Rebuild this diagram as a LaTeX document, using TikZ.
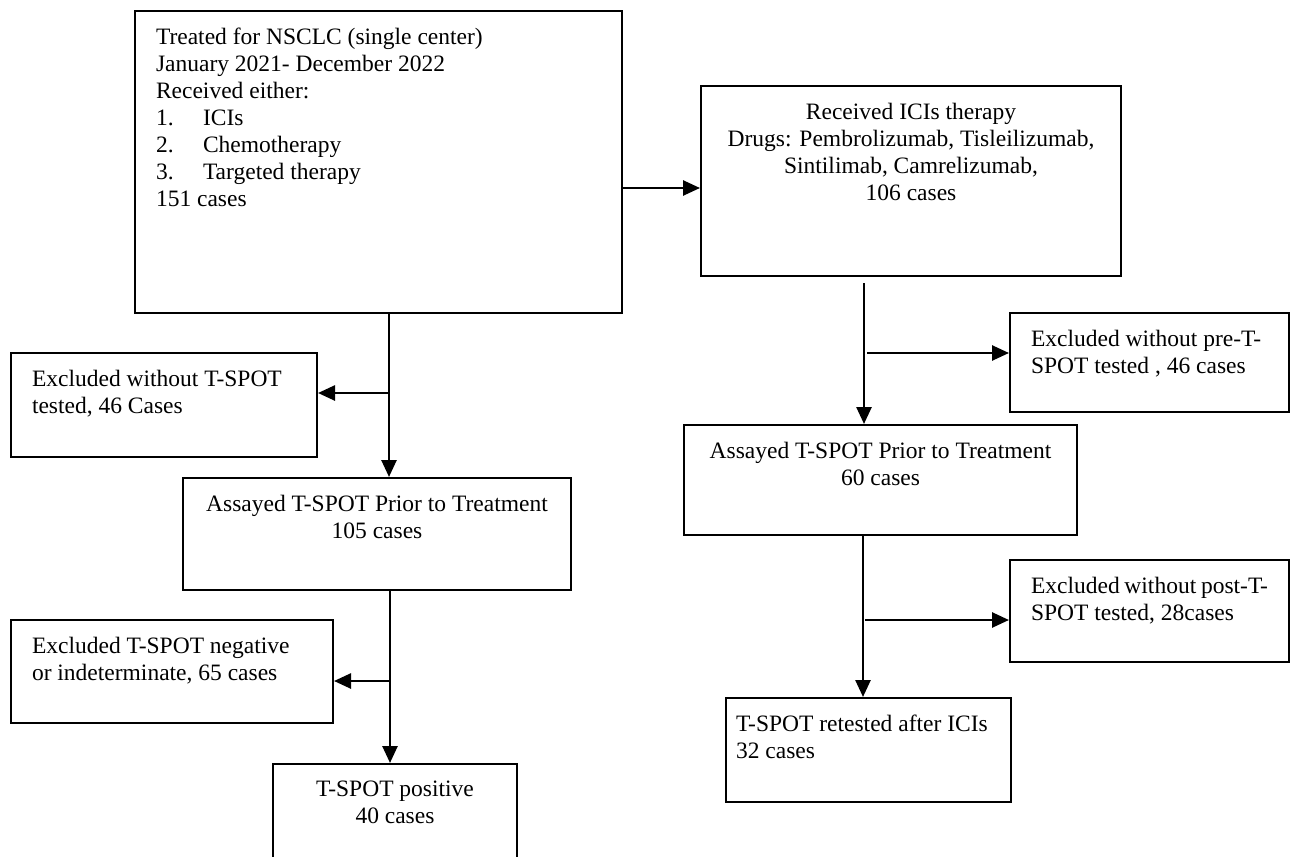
\documentclass[tikz,border=0pt]{standalone}
\usepackage{fontspec}
\setmainfont{Liberation Serif}
\usepackage{tikz}
\usetikzlibrary{arrows.meta}

\newcommand{\boxtext}[3]{\parbox[t][#2][t]{#1}{#3}}

\begin{document}
\begin{tikzpicture}[x=1pt, y=-1pt,
    box/.style={draw, line width=2pt, anchor=north west, inner xsep=21pt, inner ysep=17pt,
        font=\fontsize{23.5}{27}\selectfont},
    cbox/.style={box, inner xsep=5pt},
    arr/.style={line width=2.6pt, -{Triangle[length=17pt,width=15pt]}}]
\useasboundingbox[fill=white] (0,0) rectangle (1292,856);

\node[box] (treated) at (134,10) {\boxtext{445pt}{268pt}{Treated for NSCLC (single center)\\
January 2021- December 2022\\
Received either:\\
\makebox[47pt][l]{1.}ICIs\\
\makebox[47pt][l]{2.}Chemotherapy\\
\makebox[47pt][l]{3.}Targeted therapy\\
151 cases}};
\node[cbox] (icis) at (700,85) {\boxtext{410pt}{156pt}{\centering Received ICIs therapy\\
Drugs: Pembrolizumab, Tisleilizumab,\\
Sintilimab, Camrelizumab,\\
106 cases}};
\node[box] (excl1) at (10,352) {\boxtext{264pt}{70pt}{Excluded without T-SPOT\\tested, 46 Cases}};
\node[cbox] (assay1) at (182,477) {\boxtext{378pt}{78pt}{\centering Assayed T-SPOT Prior to Treatment\\105 cases}};
\node[box] (excl4) at (10,619) {\boxtext{280pt}{69pt}{Excluded T-SPOT negative\\or indeterminate, 65 cases}};
\node[cbox] (pos) at (272,763) {\boxtext{234pt}{76pt}{\centering T-SPOT positive\\40 cases}};
\node[box] (excl2) at (1009,312) {\boxtext{237pt}{65pt}{Excluded without pre-T-\\SPOT tested , 46 cases}};
\node[cbox] (assay2) at (683,424) {\boxtext{383pt}{76pt}{\centering Assayed T-SPOT Prior to Treatment\\60 cases}};
\node[box] (excl3) at (1009,559) {\boxtext{237pt}{68pt}{Excluded without post-T-\\SPOT tested, 28cases}};
\node[box, inner xsep=10pt] (retest) at (725,697) {\boxtext{265pt}{70pt}{T-SPOT retested after ICIs\\32 cases}};

\coordinate (j0) at (621,188);
\coordinate (j1) at (389,393);
\coordinate (j2) at (390,681);
\coordinate (j3) at (864,353);
\coordinate (j4) at (863,620);

\draw[arr] (treated.east |- j0) -- (icis.west |- j0);
\draw[arr] (treated.south -| j1) -- (assay1.north -| j1);
\draw[arr] (j1) -- (excl1.east |- j1);
\draw[arr] (assay1.south -| j2) -- (pos.north -| j2);
\draw[arr] (j2) -- (excl4.east |- j2);
\draw[arr, shorten <=6pt] (icis.south -| j3) -- (assay2.north -| j3);
\draw[arr, shorten <=3pt] (j3) -- (excl2.west |- j3);
\draw[arr] (assay2.south -| j4) -- (retest.north -| j4);
\draw[arr, shorten <=2pt] (j4) -- (excl3.west |- j4);
\end{tikzpicture}
\end{document}
